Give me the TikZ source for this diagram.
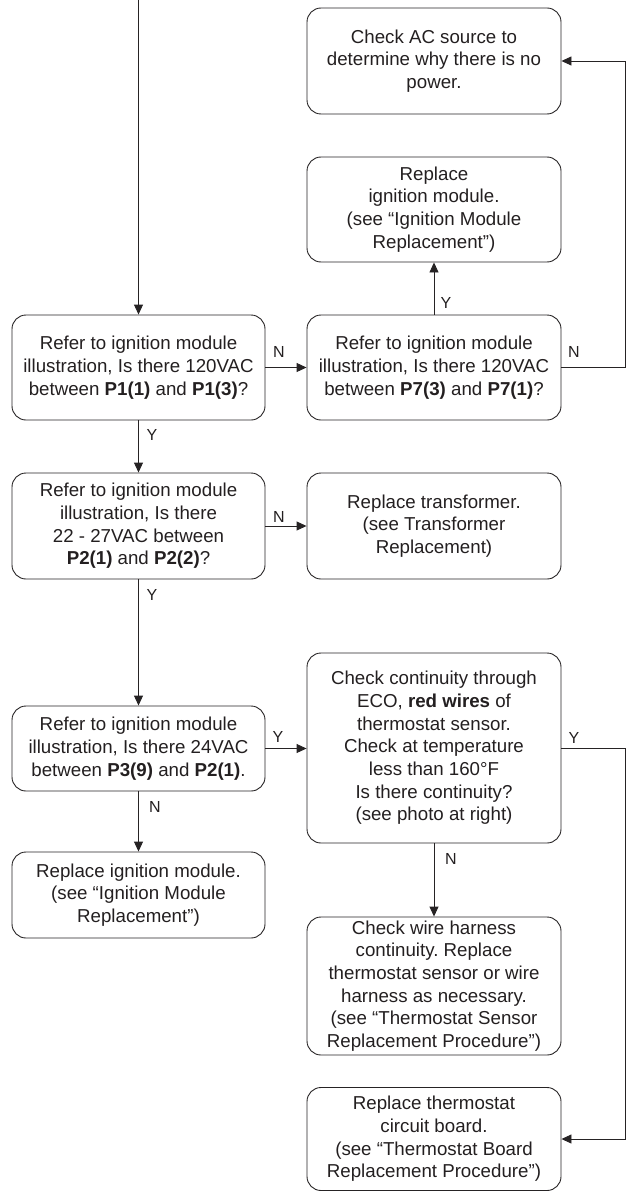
\documentclass[tikz,border=0pt]{standalone}
\usepackage{fontspec}
\setmainfont{Liberation Sans}
\usetikzlibrary{arrows.meta}
\definecolor{linec}{HTML}{262324}
\definecolor{textc}{HTML}{231F20}
\frenchspacing
\begin{document}
\begin{tikzpicture}[x=1pt,y=-1pt,
  stepbox/.style={draw=linec, line width=0.9pt, rounded corners=14pt, minimum width=254pt, inner sep=0pt, align=center, text=textc, font=\fontsize{18.7}{22.7}\selectfont},
  yn/.style={font=\fontsize{16}{18}\selectfont, text=textc, inner sep=0pt},
  conn/.style={draw=linec, line width=0.9pt},
  arr/.style={conn, -{Triangle[length=10pt,width=9pt]}}
]
\useasboundingbox (0,0) rectangle (631,1193);

\node[stepbox, minimum height=106pt] (ac) at (434,61) {Check AC source to\\determine why there is no\\power.};
\node[stepbox, minimum height=105pt] (rim) at (434,209.5) {Replace\\ignition module.\\(see “Ignition Module\\Replacement”)};
\node[stepbox, minimum width=253pt, minimum height=105pt] (q1) at (138.5,367.5) {Refer to ignition module\\illustration, Is there 120VAC\\between \textbf{P1(1)} and \textbf{P1(3)}?};
\node[stepbox, minimum height=105pt] (q7) at (434,367.5) {Refer to ignition module\\illustration, Is there 120VAC\\between \textbf{P7(3)} and \textbf{P7(1)}?};
\node[stepbox, minimum width=253pt, minimum height=106pt] (q2) at (138.5,526) {Refer to ignition module\\illustration, Is there\\22 - 27VAC between\\\textbf{P2(1)} and \textbf{P2(2)}?};
\node[stepbox, minimum height=106pt] (tr) at (434,526) {Replace transformer.\\(see Transformer\\Replacement)};
\node[stepbox, minimum width=253pt, minimum height=85pt] (q3) at (138.5,748.5) {Refer to ignition module\\illustration, Is there 24VAC\\between \textbf{P3(9)} and \textbf{P2(1)}.};
\node[stepbox, minimum height=190pt] (eco) at (434,748) {Check continuity through\\ECO, \textbf{red wires} of\\thermostat sensor.\\Check at temperature\\less than 160°F\\Is there continuity?\\(see photo at right)};
\node[stepbox, minimum width=253pt, minimum height=86pt] (rim2) at (138.5,895) {Replace ignition module.\\(see “Ignition Module\\Replacement”)};
\node[stepbox, minimum height=138pt] (wh) at (434,986) {Check wire harness\\continuity. Replace\\thermostat sensor or wire\\harness as necessary.\\(see “Thermostat Sensor\\Replacement Procedure”)};
\node[stepbox, minimum height=103pt] (tb) at (434,1139) {Replace thermostat\\circuit board.\\(see “Thermostat Board\\Replacement Procedure”)};

\coordinate (top) at (138.5,0);
\coordinate (r1) at (625,367.5);
\coordinate (r2) at (625,61);
\coordinate (r3) at (625,748);
\coordinate (r4) at (625,1139);

\draw[arr] (top) -- (q1.north);
\draw[arr] (q1.east) -- (q7.west);
\draw[arr] (q7.north) -- (rim.south);
\draw[arr] (q7.east) -- (r1) -- (r2) -- (ac.east);
\draw[arr] (q1.south) -- (q2.north);
\draw[arr] (q2.east) -- (tr.west);
\draw[arr] (q2.south) -- (q3.north);
\draw[arr] (q3.east) -- (q3.east -| eco.west);
\draw[arr] (q3.south) -- (rim2.north);
\draw[arr] (eco.south) -- (wh.north);
\draw[arr] (eco.east) -- (r3) -- (r4) -- (tb.east);

\node[yn] (l1) at (279,352) {N};
\node[yn] (l2) at (446,303) {Y};
\node[yn] (l3) at (574,352) {N};
\node[yn] (l4) at (152,435) {Y};
\node[yn] (l5) at (279,517) {N};
\node[yn] (l6) at (152,595) {Y};
\node[yn] (l7) at (278,737) {Y};
\node[yn] (l8) at (574,738) {Y};
\node[yn] (l9) at (155,807) {N};
\node[yn] (l10) at (451,859) {N};
\end{tikzpicture}
\end{document}
